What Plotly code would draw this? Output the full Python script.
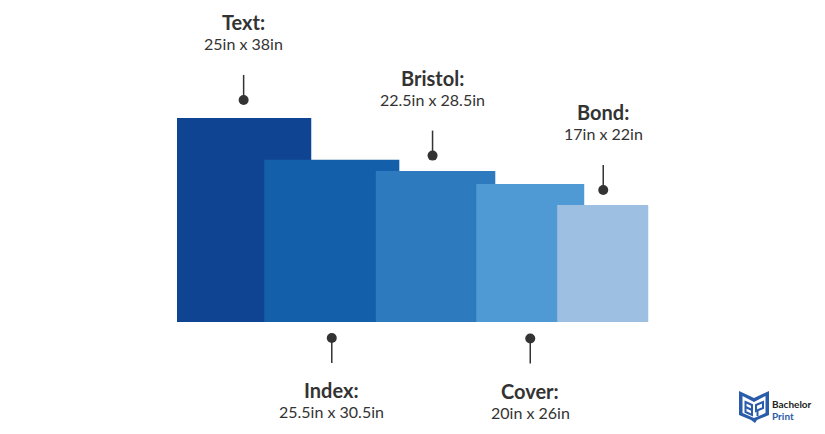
#!/usr/bin/env python3

import plotly.graph_objects as go

# paper sizes, in inches, as drawn in the picture
papers = ['Text', 'Index', 'Bristol', 'Cover', 'Bond']
widths = [25, 25.15, 22.25, 20.1, 16.95]
heights = [38, 30.2, 28.1, 25.7, 21.8]
sizes = ['25in x 38in', '25.5in x 30.5in', '22.5in x 28.5in',
         '20in x 26in', '17in x 22in']

colors = ['#0F4492', '#135FA9', '#2E7ABE', '#4F9AD4', '#9DBFE2']
DARK = '#333333'
LOGO_BLUE = '#2A5CAA'

W, H = 825, 434
PX_PER_IN = 5.37
X0, Y0 = 177, 322       # pixel position of the chart origin
OVERLAPS = [0, 47, 23.5, 19, 27]    # px each bar slides under the previous
ABOVE = [True, False, True, False, True]
DOT_GAP = [18, 16, 15.5, 16.5, 15]
PIN_SHIFT = [-0.5, 0, -3, 0, 0.5]   # px, the pins are not quite centred
STEM = 25
FONT = 'Lato, "Open Sans", sans-serif'


def ix(px):
    return (px - X0) / PX_PER_IN


def iy(px):
    return (Y0 - px) / PX_PER_IN


lefts = []
edge = 0.0
for w, overlap in zip(widths, OVERLAPS):
    edge -= overlap / PX_PER_IN
    lefts.append(edge)
    edge += w
centers = [left + w / 2 for left, w in zip(lefts, widths)]

fig = go.Figure()

for i, name in enumerate(papers):
    fig.add_trace(go.Bar(
        x=[centers[i]], y=[heights[i]], width=[widths[i]],
        name=name, marker={'color': colors[i], 'line': {'width': 0}},
    ))

# pins and labels
for i, name in enumerate(papers):
    pin_x = centers[i] + PIN_SHIFT[i] / PX_PER_IN
    if ABOVE[i]:
        dot_y = heights[i] + DOT_GAP[i] / PX_PER_IN
        end_y = dot_y + STEM / PX_PER_IN
        head_px = (Y0 - end_y * PX_PER_IN) - 53
    else:
        dot_y = -DOT_GAP[i] / PX_PER_IN
        end_y = dot_y - STEM / PX_PER_IN
        head_px = (Y0 - end_y * PX_PER_IN) + 27
    sub_px = head_px + 21.5

    fig.add_trace(go.Scatter(
        x=[pin_x, pin_x], y=[dot_y, end_y], mode='lines',
        line={'color': DARK, 'width': 1.5}, showlegend=False,
    ))
    fig.add_trace(go.Scatter(
        x=[pin_x], y=[dot_y], mode='markers',
        marker={'color': DARK, 'size': 10}, showlegend=False,
    ))
    fig.add_annotation(
        x=pin_x, y=iy(head_px), text=f'<b>{name}:</b>', showarrow=False,
        font={'family': FONT, 'size': 20, 'color': DARK},
    )
    fig.add_annotation(
        x=pin_x, y=iy(sub_px), text=sizes[i], showarrow=False,
        font={'family': FONT, 'size': 16, 'color': DARK},
    )

# logo: open book outline with the BP monogram
book = [(739, 391), (754, 398), (769, 391), (769, 415), (757, 420),
        (755, 423), (751, 420), (739, 415)]
inner = [(742.5, 396), (754, 402), (765.5, 396), (765.5, 413), (754, 418),
         (742.5, 413)]
letter_b = [(745.5, 402), (752, 405), (752, 415), (745.5, 412)]
letter_b_bar = [(745.5, 407), (752, 410)]
letter_p = [(756, 405), (763, 402), (763, 408), (756, 411)]
letter_p_stem = [(757.5, 410), (757.5, 416)]


def path(points, closed=True):
    coords = [f'{ix(px)},{iy(py)}' for px, py in points]
    return 'M' + ' L'.join(coords) + (' Z' if closed else '')


def stroke(points, closed=True):
    return {'type': 'path', 'path': path(points, closed),
            'fillcolor': 'rgba(0,0,0,0)', 'layer': 'above',
            'line': {'color': LOGO_BLUE, 'width': 2}}


logo_shapes = [
    {'type': 'path', 'path': path(book) + ' ' + path(inner),
     'fillcolor': LOGO_BLUE, 'line': {'width': 0}, 'layer': 'above'},
    stroke(letter_b),
    stroke(letter_b_bar, closed=False),
    stroke(letter_p),
    stroke(letter_p_stem, closed=False),
]

fig.add_annotation(x=ix(771), y=iy(404), text='<b>Bachelor</b>', showarrow=False,
                   xanchor='left', borderpad=0,
                   font={'family': FONT, 'size': 10, 'color': '#222222'})
fig.add_annotation(x=ix(771), y=iy(416), text='<b>Print</b>', showarrow=False,
                   xanchor='left', borderpad=0,
                   font={'family': FONT, 'size': 10, 'color': LOGO_BLUE})

fig.update_layout(
    width=W, height=H,
    margin={'l': 0, 'r': 0, 't': 0, 'b': 0},
    paper_bgcolor='white', plot_bgcolor='white',
    showlegend=False, barmode='overlay',
    shapes=logo_shapes,
    xaxis={'range': [ix(0), ix(W)], 'visible': False, 'fixedrange': True},
    yaxis={'range': [iy(H), iy(0)], 'visible': False, 'fixedrange': True},
)

fig.write_html('out.html', config={'displayModeBar': False},
               post_script="document.body.style.margin='0';")
